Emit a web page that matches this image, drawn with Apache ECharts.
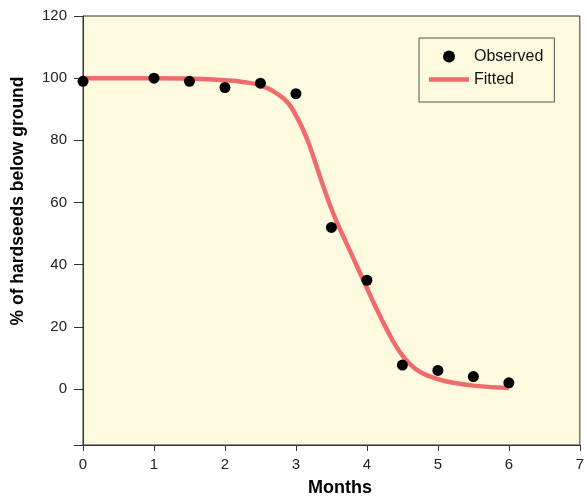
<!DOCTYPE html>
<html>
<head>
<meta charset="utf-8">
<script src="https://cdn.jsdelivr.net/npm/echarts@6/dist/echarts.min.js"></script>
<style>
html,body{margin:0;padding:0;background:#fff;}
#chart{width:587px;height:497px;}
</style>
</head>
<body>
<div id="chart"></div>
<script>
// Observed data
var obsMonths = [0, 1, 1.5, 2, 2.5, 3, 3.5, 4, 4.5, 5, 5.5, 6];
var obsValues = [99, 100, 99, 97, 98.4, 95, 52, 35, 7.7, 6, 4, 2];
// Fitted curve
var fitMonths = [0, 0.5, 1, 1.5, 2, 2.25, 2.5, 2.75, 2.9, 3, 3.1, 3.2, 3.3, 3.4, 3.5, 3.6, 3.7, 3.8, 3.9, 4, 4.1, 4.2, 4.3, 4.4, 4.5, 4.6, 4.75, 5, 5.25, 5.5, 6];
var fitValues = [100, 100, 100, 99.8, 99.3, 98.8, 97.6, 94.8, 91.7, 88, 83.5, 77.8, 71, 64.3, 58, 52.5, 47.5, 42.5, 37.5, 32.5, 27.5, 22.8, 18.3, 14.2, 10.8, 8.2, 5.5, 3.2, 1.9, 1.1, 0.3];
var yLabelValues = [0, 20, 40, 60, 80, 100, 120];
var yTickValues = [-18, 0, 20, 40, 60, 80, 100, 120];
var xTitle = 'Months';
var yTitle = '% of hardseeds below ground';

function pairs(xs, ys){ return xs.map(function(x,i){ return [x, ys[i]]; }); }

var chart = echarts.init(document.getElementById('chart'), null, {renderer:'canvas'});
chart.setOption({
  animation: false,
  backgroundColor: '#ffffff',
  grid: {
    left: 83, right: 3, top: 16, bottom: 52,
    show: true, backgroundColor: '#FDFADF', borderColor: '#333', borderWidth: 1
  },
  xAxis: {
    type: 'value', min: 0, max: 7, interval: 1,
    axisLine: {show: true, onZero: false, lineStyle: {color: '#333', width: 1}},
    axisTick: {show: true, length: 6, lineStyle: {color: '#333'}},
    axisLabel: {color: '#222', fontSize: 15, fontFamily: "'Liberation Sans', Arial, sans-serif", margin: 12},
    splitLine: {show: false}
  },
  yAxis: {
    type: 'value', min: -18, max: 120,
    axisLine: {show: true, onZero: false, lineStyle: {color: '#333', width: 1}},
    axisTick: {show: true, length: 9, customValues: yTickValues, lineStyle: {color: '#333'}},
    axisLabel: {color: '#222', fontSize: 15, fontFamily: "'Liberation Sans', Arial, sans-serif", margin: 16, customValues: yLabelValues},
    splitLine: {show: false}
  },
  legend: {
    orient: 'vertical', left: 419, top: 38,
    padding: [7, 11, 11, 10],
    backgroundColor: '#FDFADF', borderColor: '#555', borderWidth: 1,
    itemWidth: 40, itemHeight: 12, itemGap: 0,
    textStyle: {color: '#111', fontSize: 16, lineHeight: 23, fontFamily: "'Liberation Sans', Arial, sans-serif"},
    data: [
      {name: 'Observed', icon: 'circle'},
      {name: 'Fitted', icon: 'path://M0,0L40,0L40,4.5L0,4.5Z'}
    ]
  },
  series: [
    {
      name: 'Fitted', type: 'line', smooth: true, showSymbol: false, symbol: 'none',
      data: pairs(fitMonths, fitValues),
      lineStyle: {color: '#F06B6B', width: 4.5},
      itemStyle: {color: '#F06B6B'},
      z: 2
    },
    {
      name: 'Observed', type: 'scatter', symbolSize: 11,
      data: pairs(obsMonths, obsValues),
      itemStyle: {color: '#000', opacity: 1},
      z: 3
    }
  ],
  graphic: [
    {type: 'text', x: 340, y: 488, style: {text: xTitle, fill: '#000', font: "bold 18px 'Liberation Sans', Arial, sans-serif", textAlign: 'center', textVerticalAlign: 'middle'}},
    {type: 'text', x: 18, y: 201, rotation: Math.PI/2, style: {text: yTitle, fill: '#000', font: "bold 17.5px 'Liberation Sans', Arial, sans-serif", textAlign: 'center', textVerticalAlign: 'middle'}}
  ]
});
</script>
</body>
</html>
